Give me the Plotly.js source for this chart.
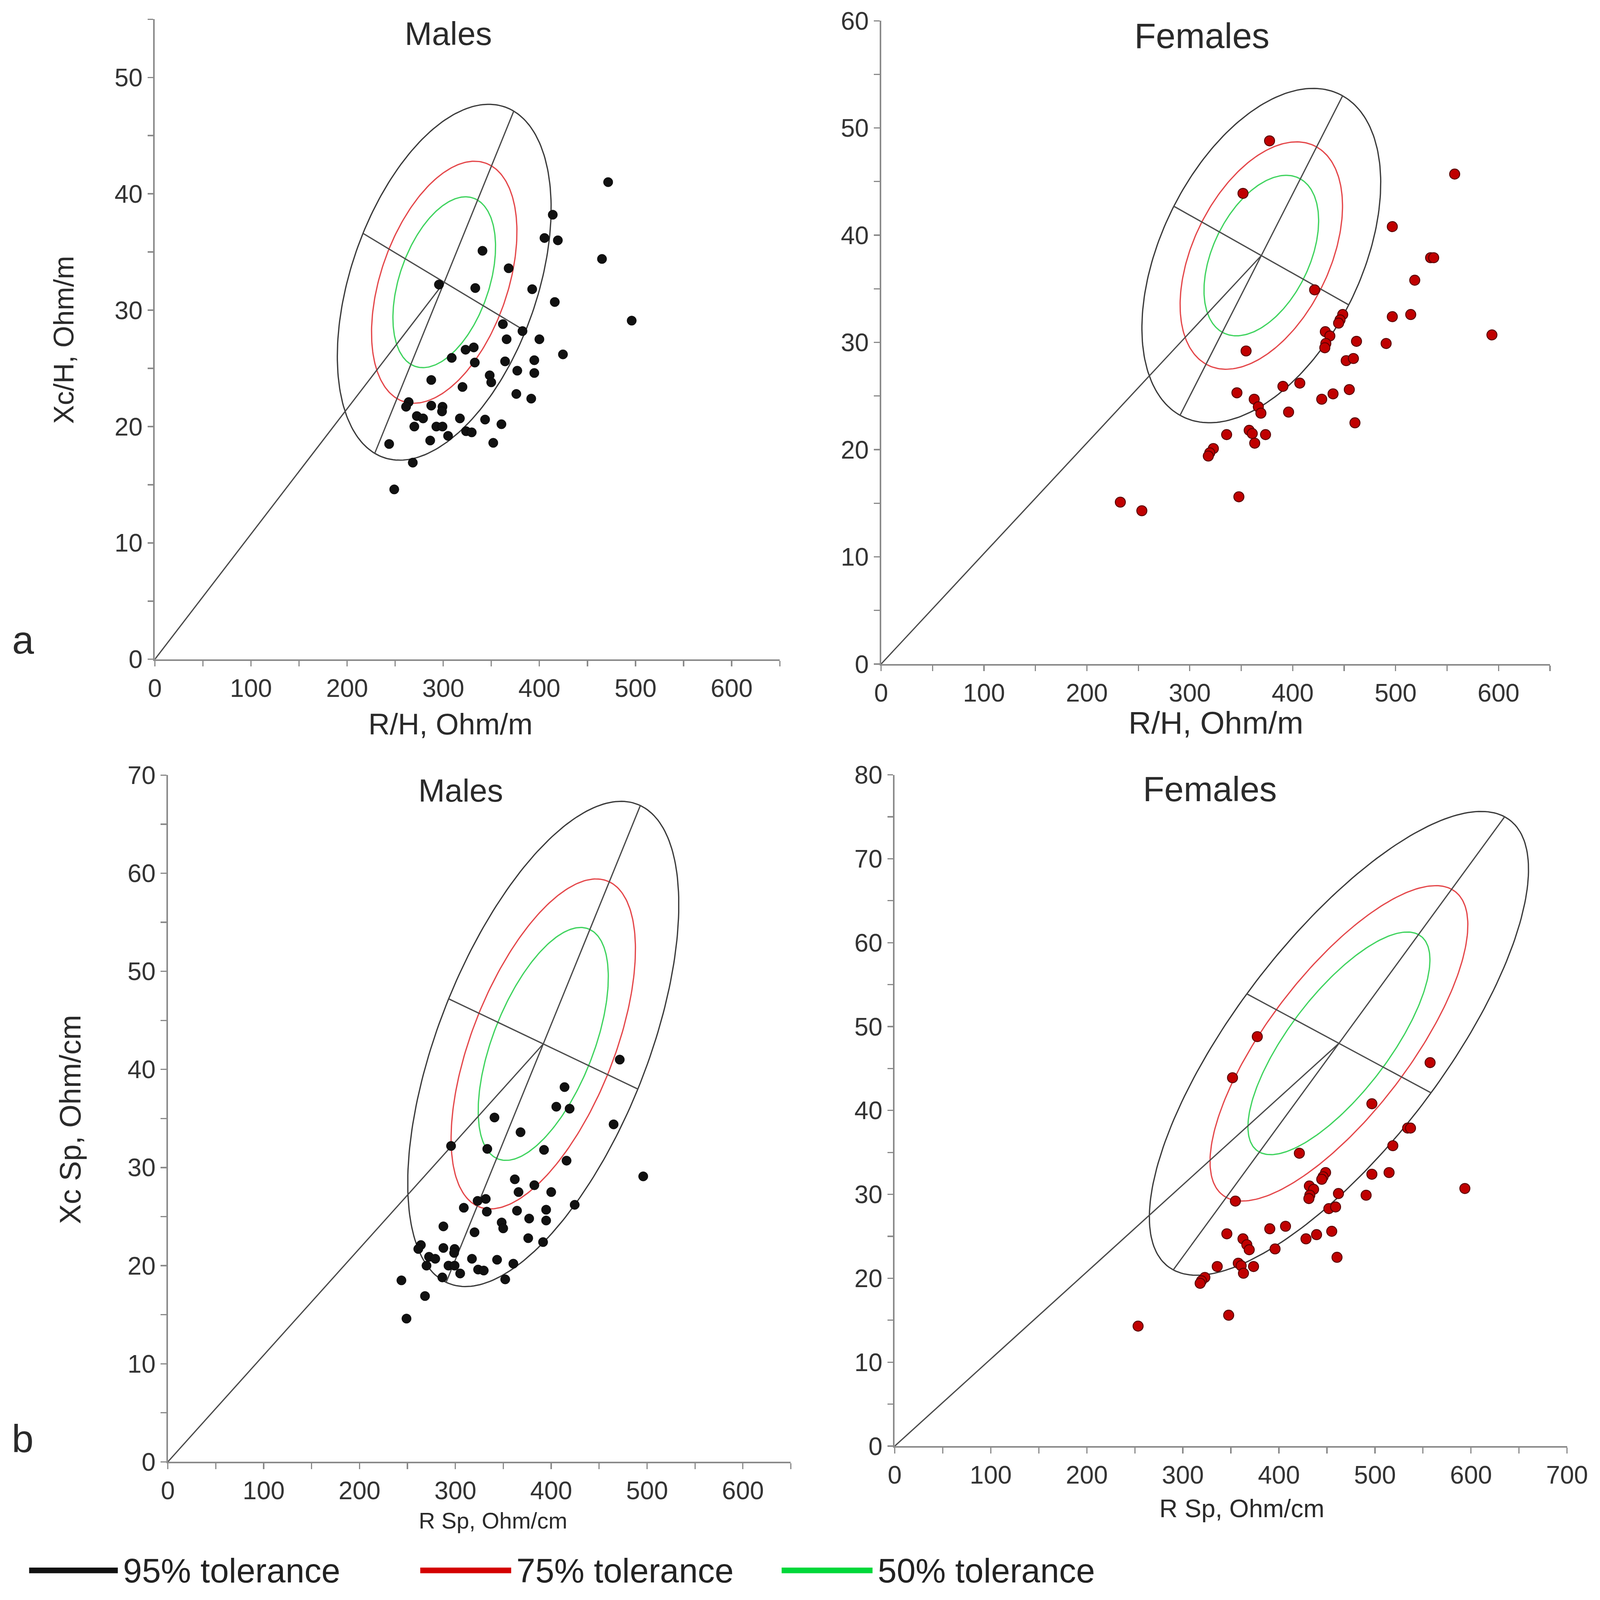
<!DOCTYPE html>
<html>
<head>
<meta charset="utf-8">
<script src="https://cdn.plot.ly/plotly-3.0.1.min.js"></script>
<style>
  html, body { margin: 0; padding: 0; background: #fff; overflow: hidden; }
</style>
</head>
<body>
<div id="chart"></div>
<script>
/******************** DATA ********************/
// Males, R/H vs Xc/H (same points appear in the specific panel, b)
const maleR  = [471.5, 413.9, 405.3, 419.2, 465.1, 340.8, 368.0, 295.5, 333.3, 392.5, 416.0, 496.0, 362.0,
                382.4, 365.9, 400.0, 331.7, 323.2, 308.8, 424.5, 332.8, 364.3, 394.7, 394.7, 377.0, 348.3,
                349.9, 287.5, 320.0, 376.0, 391.5, 264.0, 261.3, 287.5, 299.2, 298.7, 272.5, 279.0, 317.3,
                343.5, 269.9, 292.8, 299.2, 360.5, 305.0, 323.7, 329.6, 243.7, 286.4, 352.0, 268.3, 249.0];
const maleXc = [41.0, 38.2, 36.2, 36.0, 34.4, 35.1, 33.6, 32.2, 31.9, 31.8, 30.7, 29.1, 28.8,
                28.2, 27.5, 27.5, 26.8, 26.6, 25.9, 26.2, 25.5, 25.6, 25.7, 24.6, 24.8, 24.4,
                23.8, 24.0, 23.4, 22.8, 22.4, 22.1, 21.7, 21.8, 21.7, 21.3, 20.9, 20.7, 20.7,
                20.6, 20.0, 20.0, 20.0, 20.2, 19.2, 19.6, 19.5, 18.5, 18.8, 18.6, 16.9, 14.6];

// Females, R/H vs Xc/H
const femaleR  = [377.5, 351.7, 557.4, 496.8, 534.0, 537.0, 518.6, 421.3, 496.8, 514.7, 448.6, 446.0, 444.6,
                  593.6, 431.7, 436.1, 462.0, 432.2, 490.8, 431.2, 354.7, 452.0, 459.0, 390.5, 406.9, 345.8,
                  455.0, 439.2, 428.2, 362.6, 366.6, 369.1, 396.0, 460.5, 357.7, 360.7, 335.8, 373.6, 363.1,
                  322.9, 319.4, 318.0, 347.7, 232.5, 253.4];
const femaleXc = [48.8, 43.9, 45.7, 40.8, 37.9, 37.9, 35.8, 34.9, 32.4, 32.6, 32.6, 32.1, 31.8,
                  30.7, 31.0, 30.6, 30.1, 29.9, 29.9, 29.5, 29.2, 28.3, 28.5, 25.9, 26.2, 25.3,
                  25.6, 25.2, 24.7, 24.7, 24.0, 23.4, 23.5, 22.5, 21.8, 21.5, 21.4, 21.4, 20.6,
                  20.1, 19.7, 19.4, 15.6, 15.1, 14.3];

// Females, specific R Sp vs Xc Sp
const femaleSpR  = [377.5, 351.7, 557.4, 496.8, 534.0, 537.0, 518.6, 421.3, 496.8, 514.7, 448.6, 446.0, 444.6,
                    593.6, 431.7, 436.1, 462.0, 432.2, 490.8, 431.2, 354.7, 452.0, 459.0, 390.5, 406.9, 345.8,
                    455.0, 439.2, 428.2, 362.6, 366.6, 369.1, 396.0, 460.5, 357.7, 360.7, 335.8, 373.6, 363.1,
                    322.9, 319.4, 318.0, 347.7, 253.4];
const femaleSpXc = [48.8, 43.9, 45.7, 40.8, 37.9, 37.9, 35.8, 34.9, 32.4, 32.6, 32.6, 32.1, 31.8,
                    30.7, 31.0, 30.6, 30.1, 29.9, 29.9, 29.5, 29.2, 28.3, 28.5, 25.9, 26.2, 25.3,
                    25.6, 25.2, 24.7, 24.7, 24.0, 23.4, 23.5, 22.5, 21.8, 21.5, 21.4, 21.4, 20.6,
                    20.1, 19.7, 19.4, 15.6, 14.3];

// Tolerance ellipses: centre, semi-axis vectors (the two drawn diameters)
const ellipseCentre = [[301.0, 32.4], [369.5, 38.1], [391.7, 42.6], [462.5, 48.0]];
const ellipseAxisU  = [[72.3, 14.7],  [79.0, 14.9],  [101.3, 24.3], [172.5, 27.0]];
const ellipseAxisV  = [[84.5, -4.2],  [85.0, -4.6],  [98.7, -4.6],  [95.9, -5.9]];
const toleranceLevels = ["95% tolerance", "75% tolerance", "50% tolerance"];
const toleranceScale  = [1.0, 0.68, 0.48];
const toleranceColors = ["#3a3a3a", "#e4474a", "#3fd35e"];
const legendColors    = ["#111111", "#d40000", "#00d83a"];

const panelTitles = ["Males", "Females", "Males", "Females"];
const xTitles = ["R/H, Ohm/m", "R/H, Ohm/m", "R Sp, Ohm/cm", "R Sp, Ohm/cm"];
const yTitles = ["Xc/H, Ohm/m", "", "Xc Sp, Ohm/cm", ""];
const xRanges = [[0, 650], [0, 650], [0, 650], [0, 700]];
const yRanges = [[0, 55], [0, 60], [0, 70], [0, 80]];

/******************** SIZING ********************/
// Everything below is measured in reference pixels (5052 x 5084) and scaled to the viewport
const REF_W = 5052, REF_H = 5084;
const W = window.innerWidth || REF_W;
const H = window.innerHeight || REF_H;
const k = Math.min(W / REF_W, H / REF_H);
const px = v => v * k;

const chartDiv = document.getElementById("chart");
chartDiv.style.width = W + "px";
chartDiv.style.height = H + "px";

const FONT = "Liberation Sans, Arial, Helvetica, sans-serif";
const AXIS_GREY = "#8a8a8a";

const xDomains = [[489, 2462], [2782, 4894], [530, 2497], [2825, 4948]].map(d => d.map(v => v / REF_W));
const yDomains = [[2095, 61], [2110, 66], [4645, 2463], [4595, 2462]].map(d => d.map(v => 1 - v / REF_H));

function ellipseTrace(p, lev, ax) {
  const [cx, cy] = ellipseCentre[p];
  const [ux, uy] = ellipseAxisU[p];
  const [vx, vy] = ellipseAxisV[p];
  const s = toleranceScale[lev];
  const xs = [], ys = [];
  for (let i = 0; i <= 240; i++) {
    const t = 2 * Math.PI * i / 240;
    xs.push(cx + s * (ux * Math.cos(t) + vx * Math.sin(t)));
    ys.push(cy + s * (uy * Math.cos(t) + vy * Math.sin(t)));
  }
  return {
    x: xs, y: ys, mode: "lines", type: "scatter",
    line: { color: toleranceColors[lev], width: px(4) },
    xaxis: "x" + ax, yaxis: "y" + ax, hoverinfo: "skip"
  };
}

function axisLinesTrace(p, ax) {
  const [cx, cy] = ellipseCentre[p];
  const [ux, uy] = ellipseAxisU[p];
  const [vx, vy] = ellipseAxisV[p];
  return {
    x: [cx - ux, cx + ux, null, cx - vx, cx + vx, null, 0, cx],
    y: [cy - uy, cy + uy, null, cy - vy, cy + vy, null, 0, cy],
    mode: "lines", type: "scatter",
    line: { color: "#4a4a4a", width: px(4) },
    xaxis: "x" + ax, yaxis: "y" + ax, hoverinfo: "skip"
  };
}

function pointsTrace(xs, ys, female, ax) {
  return {
    x: xs, y: ys, mode: "markers", type: "scatter",
    marker: female
      ? { size: px(32), color: "#c00000", line: { color: "#5a0000", width: px(3) } }
      : { size: px(30), color: "#111111", line: { color: "#000000", width: px(1) } },
    xaxis: "x" + ax, yaxis: "y" + ax
  };
}

/******************** TRACES ********************/
const panelPoints = [[maleR, maleXc, false], [femaleR, femaleXc, true],
                     [maleR, maleXc, false], [femaleSpR, femaleSpXc, true]];
const traces = [];
panelPoints.forEach((pp, p) => {
  const ax = p === 0 ? "" : String(p + 1);
  toleranceScale.forEach((_, lev) => traces.push(ellipseTrace(p, lev, ax)));
  traces.push(axisLinesTrace(p, ax));
  traces.push(pointsTrace(pp[0], pp[1], pp[2], ax));
});

/******************** AXES ********************/
const layout = {
  width: W, height: H,
  margin: { l: 0, r: 0, t: 0, b: 0, pad: 0 },
  paper_bgcolor: "#ffffff", plot_bgcolor: "#ffffff",
  showlegend: false, hovermode: false,
  font: { family: FONT, color: "#2a2a2a" },
  annotations: [], shapes: []
};

function axisStyle(range, dtick, minorDtick) {
  return {
    range: range, dtick: dtick, tick0: 0,
    showgrid: false, zeroline: false,
    showline: true, linecolor: AXIS_GREY, linewidth: px(5),
    ticks: "outside", ticklen: px(18), tickwidth: px(4), tickcolor: AXIS_GREY,
    minor: { dtick: minorDtick, ticks: "outside", ticklen: px(18), tickwidth: px(4),
             tickcolor: AXIS_GREY, showgrid: false },
    tickfont: { family: FONT, size: px(80), color: "#333333" },
    fixedrange: true
  };
}

for (let p = 0; p < 4; p++) {
  const n = p === 0 ? "" : String(p + 1);
  layout["xaxis" + n] = Object.assign(axisStyle(xRanges[p], 100, 50), {
    domain: xDomains[p], anchor: "y" + n, ticklabelstandoff: px(30)
  });
  layout["yaxis" + n] = Object.assign(axisStyle(yRanges[p], 10, 5), {
    domain: yDomains[p], anchor: "x" + n, ticklabelstandoff: px(36)
  });
}

/******************** TEXT ********************/
function note(text, x, y, size, angle) {
  layout.annotations.push({
    text: text, x: x / REF_W, y: 1 - y / REF_H, xref: "paper", yref: "paper",
    xanchor: "center", yanchor: "middle", showarrow: false, textangle: angle || 0,
    font: { family: FONT, size: px(size), color: "#2a2a2a" }
  });
}

const titlePos  = [[1415, 107, 104], [3795, 114, 112], [1455, 2511, 101], [3820, 2507, 111]];
const xTitlePos = [[1423, 2300, 94], [3840, 2296, 100], [1556, 4831, 72], [3922, 4793, 80]];
const yTitlePos = [[201, 1080, 89], null, [222, 3557, 95], null];

panelTitles.forEach((t, p) => note(t, titlePos[p][0], titlePos[p][1], titlePos[p][2]));
xTitles.forEach((t, p) => note(t, xTitlePos[p][0], xTitlePos[p][1], xTitlePos[p][2]));
yTitles.forEach((t, p) => {
  if (yTitlePos[p]) note(t, yTitlePos[p][0], yTitlePos[p][1], yTitlePos[p][2], -90);
});
note("a", 73, 2033, 125);
note("b", 71, 4572, 125);

/******************** LEGEND ********************/
const legendLineX = [[92, 372], [1327, 1614], [2468, 2755]];
const legendY = 4990;
toleranceLevels.forEach((label, lev) => {
  layout.shapes.push({
    type: "line", xref: "paper", yref: "paper",
    x0: legendLineX[lev][0] / REF_W, x1: legendLineX[lev][1] / REF_W,
    y0: 1 - legendY / REF_H, y1: 1 - legendY / REF_H,
    line: { color: legendColors[lev], width: px(18) }
  });
  layout.annotations.push({
    text: label, x: (legendLineX[lev][1] + 14) / REF_W, y: 1 - legendY / REF_H,
    xref: "paper", yref: "paper", xanchor: "left", yanchor: "middle", showarrow: false,
    font: { family: FONT, size: px(108), color: "#222222" }
  });
});

Plotly.newPlot("chart", traces, layout, { staticPlot: true, responsive: false });
</script>
</body>
</html>
